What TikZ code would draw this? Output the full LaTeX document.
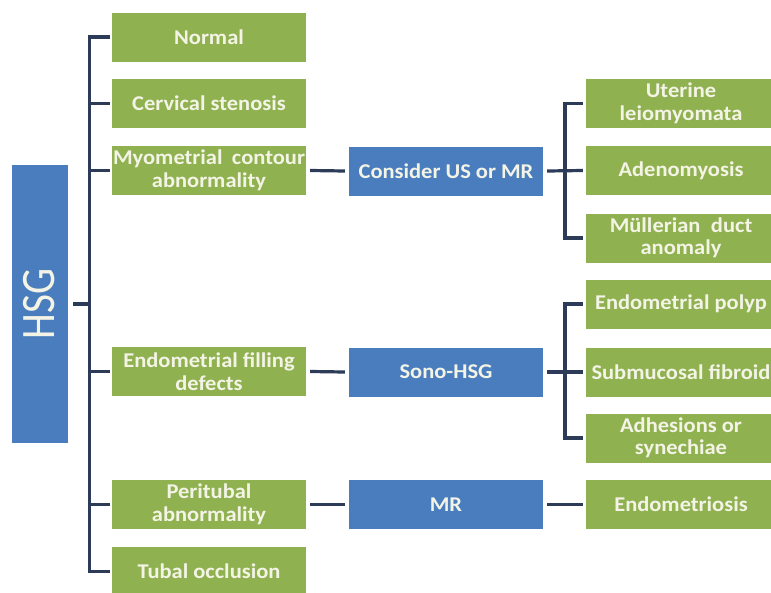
\documentclass[tikz,border=0pt]{standalone}
\usepackage{fontspec}
\setmainfont{Carlito}
\newfontfamily\boxfont[FakeStretch=1.07]{Carlito}
\definecolor{boxgreen}{HTML}{8FB150}
\definecolor{boxblue}{HTML}{4A7DBE}
\definecolor{linec}{HTML}{2C3B58}
\definecolor{txt}{HTML}{F4F4E6}
\begin{document}
\begin{tikzpicture}[x=1pt,y=-1pt,
  gbox/.style={fill=boxgreen,text=txt,minimum height=49pt,inner sep=1pt,align=center,font=\boxfont\fontsize{21}{22.5}\selectfont\bfseries},
  lg/.style={gbox,minimum width=194pt},
  rg/.style={gbox,minimum width=190pt},
  bbox/.style={fill=boxblue,text=txt,minimum width=194pt,minimum height=49pt,inner sep=1pt,align=center,font=\boxfont\fontsize{21}{22.5}\selectfont\bfseries},
  conn/.style={draw=linec,line width=3.2pt}]
\useasboundingbox (0,0) rectangle (771,592);
\fill[white] (0,0) rectangle (771,592);
% HSG
\node[fill=boxblue,minimum width=56pt,minimum height=278pt,inner sep=0pt] (hsg) at (40,304) {};
\node[text=txt,rotate=90,inner sep=0pt,font=\fontsize{48}{48}\selectfont] (hsgt) at ([xshift=-1pt]hsg.center) {\scalebox{0.86}[1]{HSG}};
% left column
\node[lg] (normal) at (209,37) {Normal};
\node[lg] (cerv) at (209,103.5) {Cervical stenosis};
\node[lg] (myo) at (209,170.5) {Myometrial\hspace{0.45em}contour\\abnormality};
\node[lg] (endo) at (209,371.5) {Endometrial filling\\defects};
\node[lg] (peri) at (209,504.5) {Peritubal\\abnormality};
\node[lg] (tubal) at (209,571.5) {Tubal occlusion};
% middle column
\node[bbox] (us) at (446,171) {Consider US or MR};
\node[bbox] (sono) at (446,372) {Sono-HSG};
\node[bbox] (mr) at (446,504.5) {MR};
% right column
\node[rg] (uter) at (681,103.5) {Uterine\\leiomyomata};
\node[rg] (adeno) at (681,170.5) {Adenomyosis};
\node[rg] (mull) at (681,238) {Müllerian\hspace{0.5em}duct\\anomaly};
\node[rg] (polyp) at (681,304) {Endometrial polyp};
\node[rg] (subm) at (681,372) {Submucosal fibroid};
\node[rg] (adh) at (681,438) {Adhesions or\\synechiae};
\node[rg] (endom) at (681,504.5) {Endometriosis};
% bracket coordinates
\coordinate (lb) at (90,304);
\coordinate (rbu) at (565,171);
\coordinate (rbl) at (565,372);
% left bracket
\draw[conn] ([xshift=5pt]hsg.east) -- (lb);
\draw[conn] ([xshift=-2pt]normal.west) -| ([xshift=-22pt]tubal.west) -- ([xshift=-2pt]tubal.west);
\foreach \n in {cerv,myo,endo,peri}
  \draw[conn] ([xshift=-22pt]\n.west) -- ([xshift=-2pt]\n.west);
% middle connectors
\draw[conn] ([xshift=4pt]myo.east) -- ([xshift=-4pt]us.west);
\draw[conn] ([xshift=4pt]endo.east) -- ([xshift=-4pt]sono.west);
\draw[conn] ([xshift=4pt]peri.east) -- ([xshift=-4pt]mr.west);
\draw[conn] ([xshift=4pt]mr.east) -- ([xshift=-3pt]endom.west);
% right upper bracket
\draw[conn] ([xshift=4pt]us.east) -- ([xshift=-3pt]adeno.west);
\draw[conn] ([xshift=-3pt]uter.west) -| (rbu) |- ([xshift=-3pt]mull.west);
% right lower bracket
\draw[conn] ([xshift=4pt]sono.east) -- ([xshift=-3pt]subm.west);
\draw[conn] ([xshift=-3pt]polyp.west) -| (rbl) |- ([xshift=-3pt]adh.west);
\end{tikzpicture}
\end{document}
